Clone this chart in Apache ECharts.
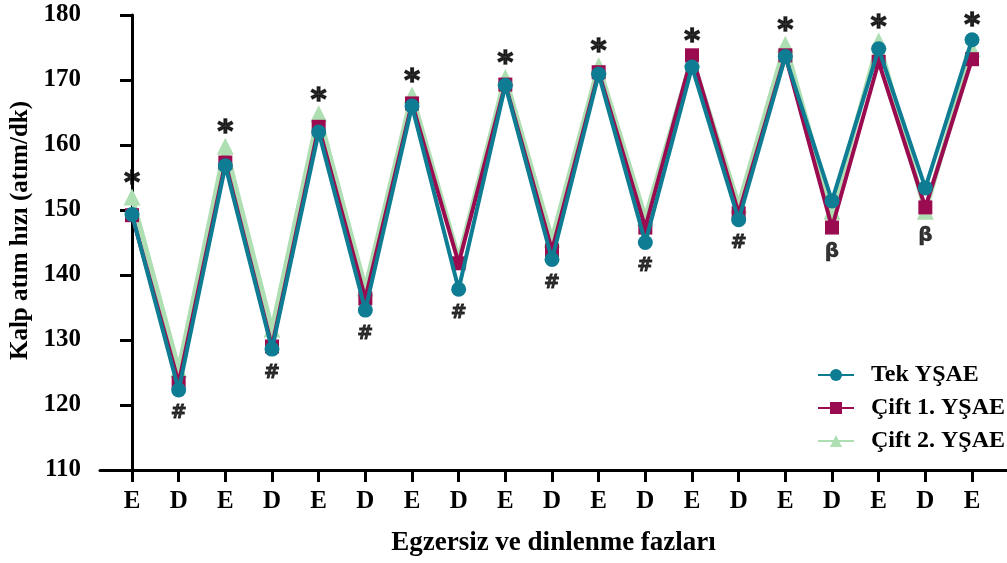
<!DOCTYPE html>
<html>
<head>
<meta charset="utf-8">
<script src="https://cdn.jsdelivr.net/npm/echarts@6/dist/echarts.min.js"></script>
<style>
html,body{margin:0;padding:0;background:#fff;}
#chart{width:1007px;height:563px;}
</style>
</head>
<body>
<div id="chart"></div>
<script>
const categories = ['E','D','E','D','E','D','E','D','E','D','E','D','E','D','E','D','E','D','E'];
const tekYSAE  = [149.3,122.3,156.8,128.6,162.0,134.6,166.0,137.8,169.2,142.4,170.9,145.0,172.0,148.5,173.6,151.4,174.8,153.4,176.2];
const cift1YSAE = [149.2,123.4,157.3,129.0,162.8,136.4,166.4,141.8,169.3,143.8,171.2,147.3,173.8,149.5,173.8,147.3,172.8,150.4,173.2];
const cift2YSAE = [152.0,125.5,159.8,131.7,164.8,138.0,167.7,142.5,170.4,145.5,172.2,148.8,173.3,150.8,175.5,149.8,176.0,149.8,174.8];
const marks = ['*','#','*','#','*','#','*','#','*','#','*','#','*','#','*','β','*','β','*'];
const seriesNames = ['Tek YŞAE','Çift 1. YŞAE','Çift 2. YŞAE'];
const yMin = 110, yMax = 180, yStep = 10;

const colors = ['#0E7D93','#9B0B50','#ADDFB2'];
const serif = '"Liberation Serif","Times New Roman",serif';
const sans = '"DejaVu Sans","Liberation Sans",Arial,sans-serif';

const allSeries = [tekYSAE, cift1YSAE, cift2YSAE];
const idx = categories.map((_, i) => i);

const annotData = categories.map((c, i) => {
  const vals = allSeries.map(s => s[i]);
  const isE = c === 'E';
  const v = isE ? Math.max(...vals) : Math.min(...vals);
  let label;
  if (isE) label = {position: 'top', distance: -9, fontSize: 30, fontFamily: sans, fontWeight: 'bold', textBorderColor: '#000', textBorderWidth: 1.5};
  else if (marks[i] === 'β') label = {position: 'bottom', distance: 7, fontSize: 20, fontFamily: sans, fontWeight: 'bold', textBorderColor: '#000', textBorderWidth: 0.5};
  else label = {position: 'bottom', distance: 7, fontSize: 19, fontFamily: sans, fontWeight: 'bold', textBorderColor: '#000', textBorderWidth: 0.8};
  return {value: [i, v], label};
});

const chart = echarts.init(document.getElementById('chart'), null, {renderer: 'canvas'});
chart.setOption({
  animation: false,
  backgroundColor: '#fff',
  grid: {left: 100, right: 0, top: 15, bottom: 93, containLabel: false, outerBoundsMode: 'none'},
  legend: {
    orient: 'vertical',
    left: 812, top: 358,
    itemWidth: 36, itemHeight: 15, itemGap: 9,
    textStyle: {fontFamily: serif, fontWeight: 'bold', fontSize: 24, color: '#000', padding: [0, 0, 0, 12]},
    data: seriesNames
  },
  xAxis: {
    type: 'value',
    min: -0.6857, max: 18.75,
    name: 'Egzersiz ve dinlenme fazları',
    nameLocation: 'middle', nameGap: 60,
    nameTextStyle: {fontFamily: serif, fontWeight: 'bold', fontSize: 27, color: '#000'},
    axisLine: {show: true, lineStyle: {color: '#000', width: 3}},
    axisTick: {show: true, length: 12, lineStyle: {color: '#000', width: 3}, customValues: idx},
    axisLabel: {customValues: idx, formatter: v => categories[Math.round(v)] || '', margin: 19,
      fontFamily: serif, fontWeight: 'bold', fontSize: 25, color: '#000'},
    splitLine: {show: false}
  },
  yAxis: {
    type: 'value', min: yMin, max: yMax, interval: yStep,
    name: 'Kalp atım hızı (atım/dk)',
    nameLocation: 'middle', nameGap: 66,
    nameTextStyle: {fontFamily: serif, fontWeight: 'bold', fontSize: 25, color: '#000', padding: [0, 0, 0, 24]},
    axisLine: {show: true, lineStyle: {color: '#000', width: 3}},
    axisTick: {show: true, length: 12, lineStyle: {color: '#000', width: 3}},
    axisLabel: {margin: 19, fontFamily: serif, fontWeight: 'bold', fontSize: 25, color: '#000'},
    splitLine: {show: false}
  },
  series: [
    {
      name: seriesNames[0], type: 'line', z: 5,
      data: tekYSAE.map((v, i) => [i, v]),
      symbol: 'circle', symbolSize: 15,
      lineStyle: {width: 4, color: colors[0]}, itemStyle: {color: colors[0]}
    },
    {
      name: seriesNames[1], type: 'line', z: 4,
      data: cift1YSAE.map((v, i) => [i, v]),
      symbol: 'rect', symbolSize: 14,
      lineStyle: {width: 4, color: colors[1]}, itemStyle: {color: colors[1]}
    },
    {
      name: seriesNames[2], type: 'line', z: 3,
      data: cift2YSAE.map((v, i) => [i, v]),
      symbol: 'triangle', symbolSize: 17,
      lineStyle: {width: 5, color: colors[2]}, itemStyle: {color: colors[2]}
    },
    {
      name: 'sig', type: 'scatter', z: 6, silent: true,
      symbol: 'circle', symbolSize: 14,
      itemStyle: {color: 'rgba(0,0,0,0)'},
      label: {show: true, color: '#000', formatter: p => marks[p.dataIndex]},
      data: annotData
    }
  ]
});
</script>
</body>
</html>
